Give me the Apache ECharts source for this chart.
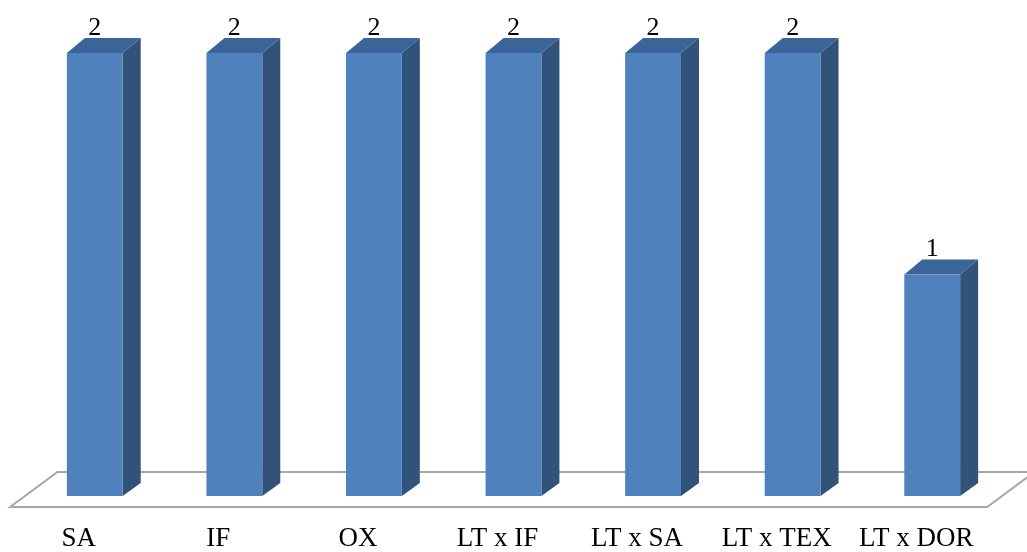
<!DOCTYPE html>
<html>
<head>
<meta charset="utf-8">
<script src="https://cdn.jsdelivr.net/npm/echarts@6/dist/echarts.min.js"></script>
<style>
  html, body { margin: 0; padding: 0; background: #fff; }
  #chart { width: 1027px; height: 552px; }
</style>
</head>
<body>
<div id="chart"></div>
<script>
// Counts per treatment
const categories = ['SA', 'IF', 'OX', 'LT x IF', 'LT x SA', 'LT x TEX', 'LT x DOR'];
const counts = [2, 2, 2, 2, 2, 2, 1];

// Depth of each box (pixels) and of the floor in front/behind the bars
const BAR_DX = 18, BAR_DY = -15;
const FLOOR_FRONT = 11, FLOOR_BACK = 24, FLOOR_SLOPE = 1.35;
const SERIF = '"Liberation Serif", "Times New Roman", serif';

const chart = echarts.init(document.getElementById('chart'));

function renderFloor(params, api) {
  const cs = params.coordSys;
  const y0 = api.coord([0, 0])[1];
  const l = cs.x, r = cs.x + cs.width;
  const yf = y0 + FLOOR_FRONT, yb = y0 - FLOOR_BACK;
  const xf = -FLOOR_FRONT * FLOOR_SLOPE, xb = FLOOR_BACK * FLOOR_SLOPE;
  return {
    type: 'polygon',
    shape: { points: [[l + xf, yf], [r + xf, yf], [r + xb, yb], [l + xb, yb]] },
    style: { fill: '#ffffff', stroke: '#a6a6a6', lineWidth: 2 }
  };
}

function renderBox(params, api) {
  const i = api.value(0);
  const v = api.value(1);
  const top = api.coord([i, v]);
  const base = api.coord([i, 0]);
  const w = api.size([1, 0])[0] * 0.4;
  const x0 = top[0] - w / 2, x1 = top[0] + w / 2;
  const yt = top[1], yb = base[1];
  return {
    type: 'group',
    children: [
      { type: 'polygon',
        shape: { points: [[x1, yt], [x1 + BAR_DX, yt + BAR_DY], [x1 + BAR_DX, yb + BAR_DY + 2], [x1, yb]] },
        style: { fill: '#315379' } },
      { type: 'polygon',
        shape: { points: [[x0, yt], [x0 + BAR_DX, yt + BAR_DY], [x1 + BAR_DX, yt + BAR_DY], [x1, yt]] },
        style: { fill: '#3a6599' } },
      { type: 'rect',
        shape: { x: x0, y: yt, width: x1 - x0, height: yb - yt },
        style: { fill: '#4f81bd' } },
      { type: 'text',
        style: { text: String(v), x: top[0], y: yt - 25, align: 'center', verticalAlign: 'middle',
                 font: '26px ' + SERIF, fill: '#000' } }
    ]
  };
}

chart.setOption({
  animation: false,
  grid: { left: 25, right: 25, top: 53, bottom: 56 },
  xAxis: {
    type: 'category',
    data: categories,
    axisLine: { show: false },
    axisTick: { show: false },
    axisLabel: {
      margin: 29,
      color: '#000',
      fontFamily: SERIF,
      fontSize: 27,
      padding: [0, 32, 0, 0],
      interval: 0
    }
  },
  yAxis: { type: 'value', min: 0, max: 2, show: false, splitLine: { show: false } },
  series: [
    { type: 'custom', renderItem: renderFloor, data: [[0, 0]], z: 1, silent: true },
    { type: 'custom', renderItem: renderBox,
      data: counts.map((c, i) => [i, c]), encode: { x: 0, y: 1 }, z: 2 }
  ]
});
</script>
</body>
</html>
